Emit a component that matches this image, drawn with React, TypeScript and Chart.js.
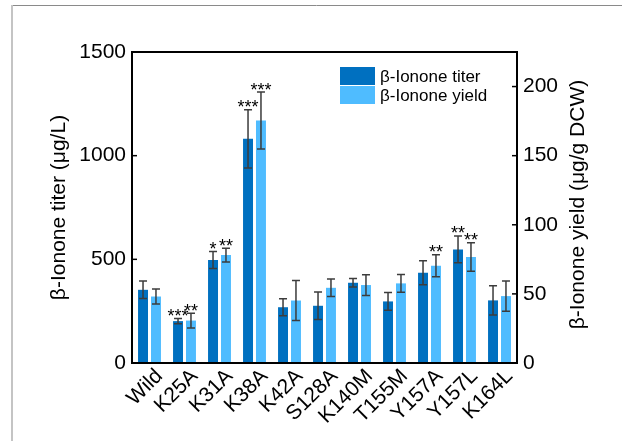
import React, { useEffect, useRef } from "react";
import { Chart, registerables } from "chart.js";

Chart.register(...registerables);

const categories = ["Wild", "K25A", "K31A", "K38A", "K42A", "S128A", "K140M", "T155M", "Y157A", "Y157L", "K164L"];
const titerValues = [353, 202, 497, 1081, 269, 276, 387, 297, 435, 548, 302];
const titerErrors = [42, 13, 41, 140, 41, 66, 20, 43, 58, 65, 70];
const yieldValues = [48.1, 30.7, 78.1, 175.4, 45.2, 54.4, 56.4, 57.6, 70.4, 76.7, 48.4];
const yieldErrors = [5.5, 5.3, 5.0, 20.6, 14.5, 6.3, 7.5, 6.4, 8.0, 10.3, 11.0];
const titerStars = ["", "***", "*", "***", "", "", "", "", "", "**", ""];
const yieldStars = ["", "**", "**", "***", "", "", "", "", "**", "**", ""];
const titerTicks = [0, 500, 1000, 1500];
const yieldTicks = [0, 50, 100, 150, 200];

const DARK = "#0070C0";
const LIGHT = "#4FBCFF";
const FONT = "Liberation Sans, Arial, sans-serif";

const errorStars = [
  { errors: titerErrors, stars: titerStars },
  { errors: yieldErrors, stars: yieldStars },
];

const decorPlugin = {
  id: "decor",
  beforeDraw(chart: any) {
    const ctx = chart.ctx;
    ctx.save();
    ctx.fillStyle = "#ffffff";
    ctx.fillRect(0, 0, chart.width, chart.height);
    ctx.strokeStyle = "#8a8a8a";
    ctx.lineWidth = 1;
    ctx.beginPath();
    ctx.moveTo(11, 5.5);
    ctx.lineTo(chart.width, 5.5);
    ctx.stroke();
    ctx.strokeStyle = "#c4c4c4";
    ctx.lineWidth = 2;
    ctx.beginPath();
    ctx.moveTo(12, 5);
    ctx.lineTo(12, chart.height);
    ctx.stroke();
    ctx.restore();
  },
  afterDatasetsDraw(chart: any) {
    const ctx = chart.ctx;
    ctx.save();
    chart.data.datasets.forEach((ds: any, i: number) => {
      const meta = chart.getDatasetMeta(i);
      const scale = chart.scales[ds.yAxisID];
      const { errors, stars } = errorStars[i];
      meta.data.forEach((bar: any, j: number) => {
        const v = ds.data[j];
        const e = errors[j];
        const x = bar.x;
        const yT = scale.getPixelForValue(v + e);
        const yB = scale.getPixelForValue(v - e);
        ctx.strokeStyle = "#3c3c3c";
        ctx.lineWidth = 1.5;
        ctx.beginPath();
        ctx.moveTo(x, yT);
        ctx.lineTo(x, yB);
        ctx.moveTo(x - 4, yT);
        ctx.lineTo(x + 4, yT);
        ctx.moveTo(x - 4, yB);
        ctx.lineTo(x + 4, yB);
        ctx.stroke();
        if (stars[j]) {
          ctx.fillStyle = "#000";
          ctx.font = `18px ${FONT}`;
          ctx.textAlign = "center";
          ctx.textBaseline = "alphabetic";
          ctx.fillText(stars[j], x, yT + 3.5);
        }
      });
    });
    // frame and ticks
    const a = chart.chartArea;
    ctx.strokeStyle = "#000";
    ctx.lineWidth = 2;
    ctx.strokeRect(a.left, a.top, a.right - a.left, a.bottom - a.top);
    ctx.lineWidth = 1.5;
    const ys = chart.scales.y;
    ys.ticks.forEach((t: any) => {
      const y = ys.getPixelForValue(t.value);
      ctx.beginPath();
      ctx.moveTo(a.left, y);
      ctx.lineTo(a.left + 5, y);
      ctx.stroke();
    });
    const y1 = chart.scales.y1;
    y1.ticks.forEach((t: any) => {
      const y = y1.getPixelForValue(t.value);
      ctx.beginPath();
      ctx.moveTo(a.right - 5, y);
      ctx.lineTo(a.right, y);
      ctx.stroke();
    });
    // axis titles
    ctx.fillStyle = "#000";
    ctx.font = `21px ${FONT}`;
    ctx.textAlign = "center";
    ctx.textBaseline = "middle";
    ctx.save();
    ctx.translate(59, (a.top + a.bottom) / 2);
    ctx.rotate(-Math.PI / 2);
    ctx.fillText("β-Ionone titer (μg/L)", 0, 0);
    ctx.restore();
    ctx.save();
    ctx.translate(578, (a.top + a.bottom) / 2 - 3);
    ctx.rotate(-Math.PI / 2);
    ctx.fillText("β-Ionone yield (μg/g DCW)", 0, 0);
    ctx.restore();
    // legend
    const items = chart.data.datasets.map((d: any) => ({ label: d.label, color: d.backgroundColor }));
    items.forEach((it: any, k: number) => {
      const top = 67 + k * 19;
      ctx.fillStyle = it.color;
      ctx.fillRect(340, top, 35, 18);
      ctx.fillStyle = "#000";
      ctx.font = `17px ${FONT}`;
      ctx.textAlign = "left";
      ctx.textBaseline = "middle";
      ctx.fillText(it.label, 380, top + 10);
    });
    ctx.restore();
  },
};

export default function App() {
  const ref = useRef<HTMLCanvasElement>(null);
  useEffect(() => {
    const chart = new Chart(ref.current as HTMLCanvasElement, {
      type: "bar",
      data: {
        labels: categories,
        datasets: [
          {
            label: "β-Ionone titer",
            data: titerValues,
            backgroundColor: DARK,
            yAxisID: "y",
            categoryPercentage: 0.74,
            barPercentage: 0.77,
          },
          {
            label: "β-Ionone yield",
            data: yieldValues,
            backgroundColor: LIGHT,
            yAxisID: "y1",
            categoryPercentage: 0.74,
            barPercentage: 0.77,
          },
        ],
      },
      options: {
        animation: false,
        responsive: false,
        maintainAspectRatio: false,
        layout: { padding: { top: 52, left: 0, right: 0, bottom: 0 } },
        plugins: { legend: { display: false }, tooltip: { enabled: false } },
        scales: {
          x: {
            type: "category",
            offset: true,
            grid: { display: false, drawTicks: false },
            border: { display: false },
            ticks: {
              autoSkip: false,
              minRotation: 45,
              maxRotation: 45,
              color: "#000",
              padding: 1,
              labelOffset: 10,
              font: { family: FONT, size: 21 },
            },
            afterFit: (s: any) => {
              s.height = 78;
            },
          },
          y: {
            position: "left",
            min: 0,
            max: 1500,
            grid: { display: false, drawTicks: false },
            border: { display: false },
            afterBuildTicks: (s: any) => {
              s.ticks = titerTicks.map((v) => ({ value: v }));
            },
            ticks: {
              color: "#000",
              padding: 6,
              font: { family: FONT, size: 21 },
              callback: (v: any) => String(v),
            },
            afterFit: (s: any) => {
              s.width = 132;
            },
          },
          y1: {
            position: "right",
            min: 0,
            max: 225,
            grid: { display: false, drawTicks: false },
            border: { display: false },
            afterBuildTicks: (s: any) => {
              s.ticks = yieldTicks.map((v) => ({ value: v }));
            },
            ticks: {
              color: "#000",
              padding: 6,
              font: { family: FONT, size: 21 },
              callback: (v: any) => String(v),
            },
            afterFit: (s: any) => {
              s.width = 105;
            },
          },
        },
      },
      plugins: [decorPlugin],
    });
    return () => chart.destroy();
  }, []);
  return (
    <div style={{ position: "fixed", left: 0, top: 0, width: 622, height: 441 }}>
      <canvas ref={ref} width={622} height={441} style={{ width: 622, height: 441 }} />
    </div>
  );
}
